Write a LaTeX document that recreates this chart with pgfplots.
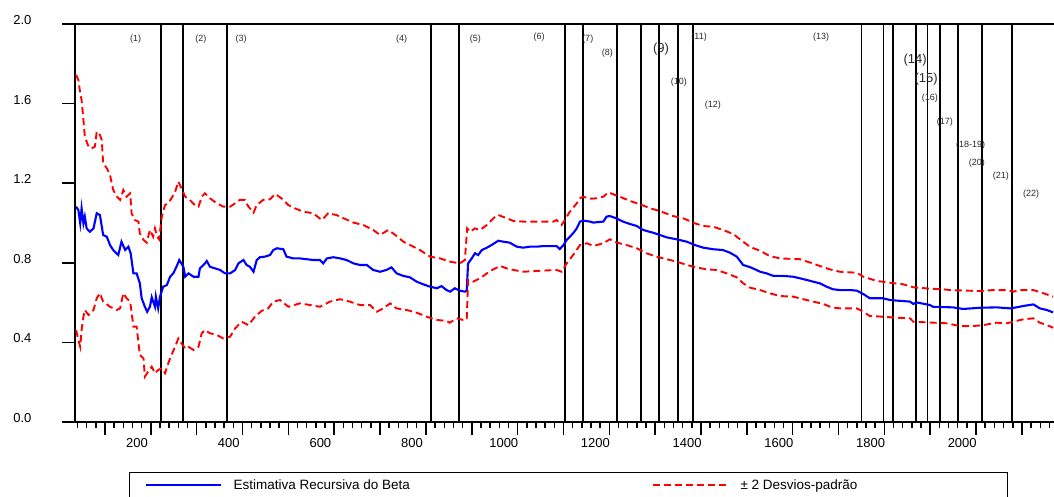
\documentclass[border=0pt]{standalone}
\usepackage{fontspec}
\setmainfont{Liberation Sans}
\usepackage{pgfplots}
\pgfplotsset{compat=1.18}
\definecolor{lblgray}{RGB}{40,40,40}
\begin{document}
\begin{tikzpicture}[x=1pt,y=1pt]
\path[use as bounding box] (0,0) rectangle (1054,497);
\begin{axis}[
  at={(75pt,75pt)}, anchor=south west,
  scale only axis, width=979pt, height=398pt,
  xmin=64.6, xmax=2200, ymin=0, ymax=2,
  axis x line=box, axis y line=left,
  axis line style={-, line width=1.5pt},
  xtick pos=bottom, ytick pos=left,
  tick align=outside,
  major tick length=13pt, minor tick length=6pt,
  every tick/.style={black, line width=1.5pt},
  xtick={130,230,...,2130},
  xticklabels={200,,400,,600,,800,,1000,,1200,,1400,,1600,,1800,,2000,,},
  xticklabel style={xshift=32pt},
  minor xtick={70,90,...,2190},
  ytick={0,0.4,0.8,1.2,1.6,2.0},
  yticklabel style={yshift=4pt, xshift=-27pt, /pgf/number format/fixed, /pgf/number format/fixed zerofill, /pgf/number format/precision=1},
  /pgf/number format/assume math mode=true,
  tick label style={font=\fontsize{13}{13}\selectfont},
  legend columns=2,
  legend style={at={(0.0552,-0.1256)}, anchor=north west, draw=black, line width=1pt,
    inner xsep=0pt, inner ysep=7pt, font=\fontsize{13.5}{14}\selectfont,
    nodes={inner sep=0pt}},
  legend image code/.code={\path[draw=none] (0pt,0pt) -- (16pt,0pt); \draw[#1, line width=1.5pt] (16pt,0pt) -- (91pt,0pt); \path[draw=none] (91pt,0pt) -- (104pt,0pt);},
]
% vertical break lines
\addplot[ycomb, black, line width=1.9pt, mark=none, forget plot] coordinates {
(252,2) (300,2) (396,2) (841,2) (902,2) (1134,2) (1173,2) (1247,2) (1300,2) (1339,2)
(1379,2) (1413,2) (1780,2) (1828,2) (1849,2) (1898,2) (1924,2) (1951,2) (1990,2) (2042,2) (2108,2)};
% recursive beta
\addplot[blue, line width=2.1pt, mark=none] coordinates {
(67,1.082) (72,1.065) (76,0.998) (79,1.074) (83,0.998) (86,1.032) (90,0.973) (97,0.956) (105,0.973)
(112,1.049) (119,1.040) (126,0.940) (134,0.931) (141,0.889) (148,0.864) (159,0.839) (166,0.906)
(174,0.864) (181,0.881) (186,0.848) (192,0.747) (199,0.747) (206,0.697) (210,0.622) (217,0.579)
(222,0.554) (228,0.579) (232,0.627) (239,0.579) (241,0.630) (246,0.571) (250,0.630) (257,0.680)
(265,0.688) (272,0.730) (279,0.747) (286,0.780) (292,0.814) (301,0.780) (305,0.730) (312,0.747)
(323,0.730) (334,0.730) (337,0.772) (348,0.797) (352,0.809) (359,0.780) (370,0.772) (381,0.764)
(392,0.747) (403,0.747) (414,0.764) (421,0.797) (432,0.814) (439,0.789) (446,0.780) (454,0.755)
(461,0.814) (468,0.828) (479,0.831) (490,0.839) (497,0.864) (505,0.873) (519,0.868) (526,0.831)
(541,0.822) (555,0.822) (570,0.818) (584,0.814) (599,0.814) (606,0.797) (614,0.822) (628,0.828)
(643,0.822) (657,0.814) (672,0.797) (686,0.789) (701,0.789) (715,0.764) (730,0.755) (744,0.764)
(755,0.777) (766,0.747) (781,0.734) (795,0.727) (810,0.705) (824,0.692) (839,0.680) (854,0.672)
(864,0.683) (875,0.663) (883,0.655) (893,0.672) (904,0.660) (915,0.655) (919,0.660) (922,0.797)
(930,0.822) (937,0.848) (944,0.839) (952,0.864) (963,0.876) (973,0.889) (988,0.911) (999,0.906)
(1013,0.901) (1028,0.881) (1042,0.876) (1057,0.881) (1072,0.881) (1086,0.884) (1101,0.884)
(1115,0.884) (1122,0.869) (1130,0.889) (1137,0.915) (1144,0.931) (1151,0.948) (1159,0.973)
(1166,1.007) (1173,1.012) (1188,1.007) (1195,1.002) (1217,1.007) (1224,1.032) (1231,1.035)
(1246,1.023) (1260,1.007) (1275,0.995) (1290,0.985) (1301,0.968) (1311,0.960) (1326,0.951)
(1340,0.940) (1355,0.928) (1377,0.918) (1399,0.906) (1417,0.889) (1435,0.876) (1457,0.868)
(1478,0.864) (1493,0.851) (1508,0.831) (1522,0.789) (1537,0.778) (1551,0.764) (1559,0.755)
(1573,0.747) (1588,0.734) (1609,0.734) (1631,0.730) (1646,0.722) (1660,0.714) (1675,0.705)
(1689,0.697) (1704,0.680) (1718,0.667) (1733,0.663) (1755,0.663) (1770,0.660) (1784,0.643)
(1798,0.622) (1827,0.622) (1842,0.613) (1857,0.610) (1886,0.605) (1893,0.593) (1900,0.601)
(1929,0.588) (1936,0.579) (1980,0.576) (2002,0.568) (2020,0.571) (2038,0.574) (2075,0.576)
(2104,0.571) (2118,0.576) (2133,0.583) (2147,0.588) (2155,0.591) (2169,0.571) (2184,0.563) (2198,0.551)};
\addlegendentry{\makebox[403pt][l]{Estimativa Recursiva do Beta}}
% upper band
\addplot[red, line width=1.9pt, dash pattern=on 7pt off 4pt, mark=none] coordinates {
(67,1.744) (72,1.719) (76,1.652) (79,1.618) (83,1.518) (86,1.434) (94,1.384) (101,1.375) (108,1.384)
(112,1.459) (119,1.442) (123,1.417) (126,1.300) (134,1.275) (141,1.241) (148,1.166) (156,1.132)
(163,1.116) (170,1.166) (177,1.132) (185,1.149) (188,1.049) (195,1.015) (203,1.007) (206,0.948)
(214,0.915) (221,0.901) (228,0.965) (235,0.931) (239,0.973) (244,0.931) (248,0.918) (254,1.032)
(261,1.090) (268,1.099) (275,1.124) (283,1.157) (290,1.208) (297,1.174) (305,1.132) (315,1.116)
(326,1.090) (334,1.082) (341,1.132) (348,1.149) (359,1.124) (374,1.099) (388,1.082) (403,1.082)
(414,1.099) (424,1.116) (435,1.116) (443,1.082) (446,1.074) (454,1.052) (461,1.090) (475,1.116)
(490,1.119) (501,1.146) (515,1.124) (530,1.090) (544,1.074) (562,1.057) (584,1.049) (603,1.015)
(617,1.049) (635,1.040) (650,1.024) (672,1.002) (693,0.990) (715,0.965) (730,0.940) (748,0.965)
(763,0.940) (781,0.906) (795,0.890) (817,0.864) (839,0.831) (861,0.822) (882,0.806) (904,0.797)
(915,0.814) (920,0.973) (926,0.956) (937,0.973) (948,0.965) (963,0.990) (981,1.032) (988,1.040)
(1006,1.024) (1021,1.010) (1042,1.007) (1086,1.007) (1108,1.007) (1115,1.015) (1126,0.990)
(1133,1.015) (1144,1.057) (1159,1.099) (1166,1.124) (1173,1.132) (1188,1.122) (1202,1.124)
(1217,1.132) (1228,1.154) (1239,1.144) (1253,1.132) (1275,1.111) (1297,1.094) (1319,1.074)
(1340,1.060) (1369,1.035) (1391,1.024) (1417,0.998) (1435,0.985) (1457,0.981) (1478,0.965)
(1500,0.945) (1522,0.906) (1537,0.880) (1559,0.860) (1580,0.834) (1602,0.822) (1646,0.818)
(1668,0.801) (1689,0.784) (1711,0.767) (1733,0.755) (1770,0.750) (1784,0.730) (1813,0.709)
(1842,0.700) (1871,0.692) (1893,0.677) (1929,0.670) (1958,0.667) (1973,0.663) (2009,0.660)
(2038,0.658) (2067,0.663) (2097,0.663) (2111,0.655) (2126,0.663) (2155,0.663) (2177,0.647) (2198,0.630)};
\addlegendentry{\makebox[267pt][l]{\textpm\ 2 Desvios-padrão}}
% lower band
\addplot[red, line width=1.9pt, dash pattern=on 7pt off 4pt, mark=none, forget plot] coordinates {
(67,0.462) (72,0.412) (76,0.378) (79,0.462) (83,0.529) (86,0.563) (94,0.538) (105,0.563) (112,0.622)
(119,0.647) (126,0.605) (141,0.579) (156,0.563) (163,0.571) (170,0.647) (177,0.622) (185,0.605)
(192,0.479) (199,0.479) (206,0.337) (214,0.320) (217,0.228) (224,0.253) (232,0.278) (239,0.245)
(246,0.261) (254,0.270) (261,0.245) (268,0.295) (275,0.337) (283,0.378) (290,0.420) (297,0.395)
(305,0.370) (312,0.378) (323,0.362) (334,0.378) (341,0.446) (348,0.462) (359,0.446) (374,0.437)
(388,0.420) (403,0.429) (414,0.471) (428,0.504) (443,0.487) (457,0.529) (472,0.559) (486,0.571)
(497,0.605) (512,0.613) (530,0.579) (555,0.596) (577,0.588) (599,0.579) (621,0.605) (643,0.617)
(664,0.605) (686,0.588) (708,0.588) (723,0.554) (737,0.571) (752,0.596) (766,0.571) (788,0.563)
(810,0.549) (832,0.529) (853,0.513) (875,0.508) (882,0.499) (897,0.521) (911,0.513) (919,0.513)
(922,0.714) (933,0.705) (948,0.722) (963,0.747) (977,0.767) (992,0.784) (1006,0.772) (1021,0.764)
(1042,0.755) (1079,0.760) (1115,0.764) (1126,0.755) (1137,0.797) (1151,0.839) (1166,0.889)
(1181,0.898) (1195,0.885) (1217,0.898) (1231,0.918) (1246,0.902) (1268,0.889) (1290,0.873)
(1311,0.848) (1333,0.831) (1355,0.818) (1377,0.806) (1399,0.789) (1420,0.777) (1442,0.767)
(1464,0.764) (1486,0.747) (1508,0.727) (1522,0.697) (1537,0.675) (1559,0.663) (1580,0.647)
(1602,0.633) (1631,0.630) (1653,0.617) (1675,0.605) (1697,0.593) (1715,0.576) (1733,0.571)
(1770,0.571) (1784,0.554) (1798,0.533) (1827,0.529) (1857,0.524) (1886,0.521) (1893,0.504)
(1929,0.500) (1966,0.496) (1995,0.482) (2024,0.482) (2046,0.487) (2075,0.499) (2097,0.496)
(2111,0.504) (2133,0.516) (2155,0.521) (2169,0.499) (2184,0.487) (2198,0.474)};
% event labels
\begin{scope}[every node/.style={text=lblgray, inner sep=0pt, font=\fontsize{9}{9}\selectfont}]
\node at (axis cs:197,1.925) {(1)};
\node at (axis cs:339,1.925) {(2)};
\node at (axis cs:427,1.925) {(3)};
\node at (axis cs:777,1.925) {(4)};
\node at (axis cs:938,1.925) {(5)};
\node at (axis cs:1077,1.935) {(6)};
\node at (axis cs:1183,1.925) {(7)};
\node at (axis cs:1226,1.854) {(8)};
\node[font=\fontsize{13}{13}\selectfont] at (axis cs:1343,1.874) {(9)};
\node at (axis cs:1382,1.709) {(10)};
\node at (axis cs:1426,1.935) {(11)};
\node at (axis cs:1456,1.593) {(12)};
\node at (axis cs:1692,1.935) {(13)};
\node[font=\fontsize{13}{13}\selectfont] at (axis cs:1897,1.819) {(14)};
\node[font=\fontsize{13}{13}\selectfont] at (axis cs:1921,1.724) {(15)};
\node at (axis cs:1929,1.628) {(16)};
\node at (axis cs:1962,1.508) {(17)};
\node at (axis cs:2018,1.392) {(18-19)};
\node at (axis cs:2032,1.302) {(20)};
\node at (axis cs:2084,1.236) {(21)};
\node at (axis cs:2150,1.146) {(22)};
\end{scope}
\end{axis}
\end{tikzpicture}
\end{document}
